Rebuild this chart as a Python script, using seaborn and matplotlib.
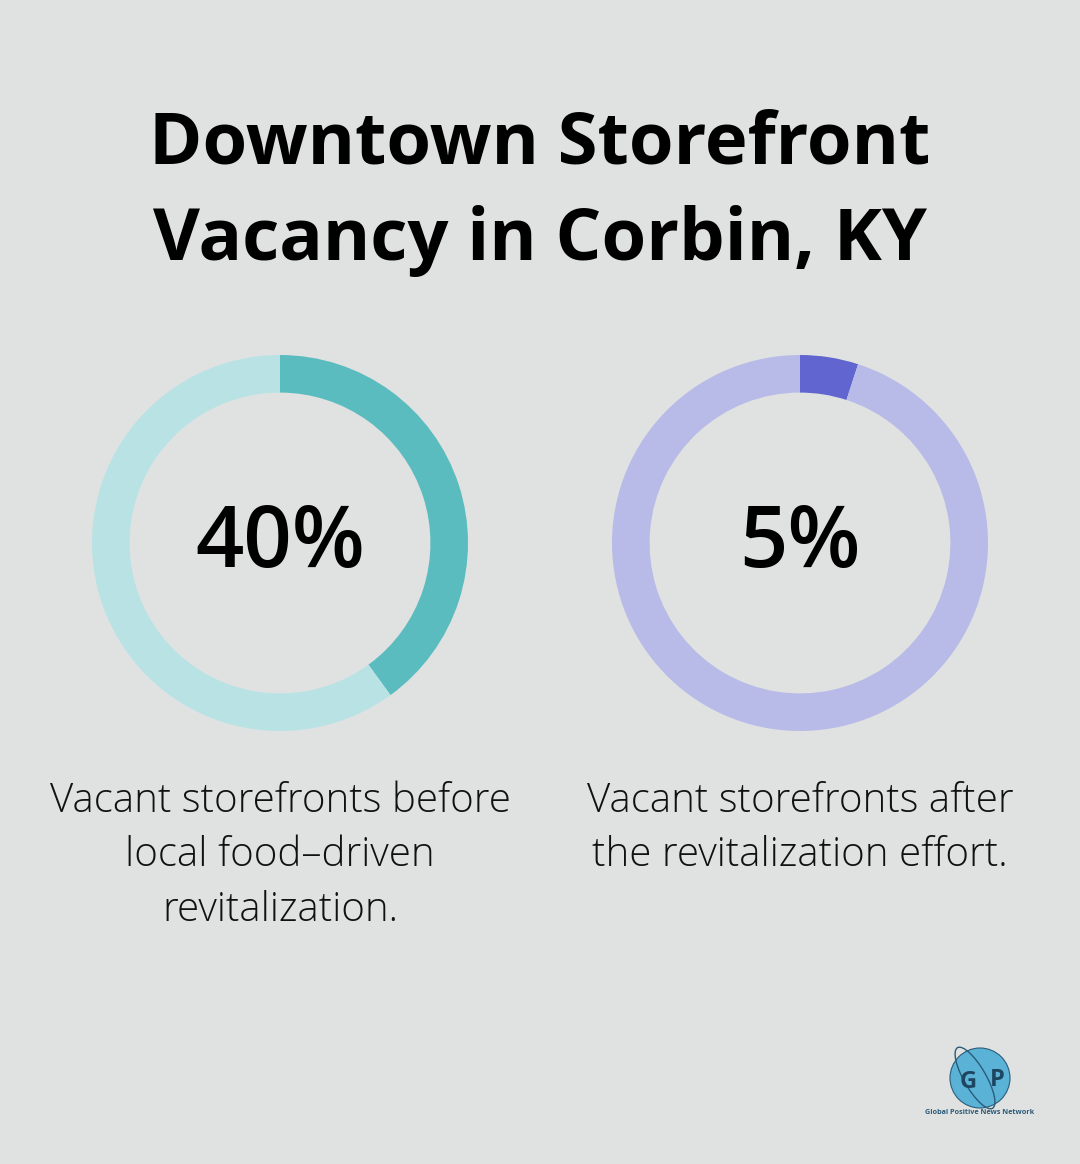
import matplotlib
matplotlib.use("Agg")
import matplotlib.pyplot as plt
import seaborn as sns
from matplotlib.patches import Circle, Ellipse

# ---- data ----
title_lines = ["Downtown Storefront", "Vacancy in Corbin, KY"]
labels = ["40%", "5%"]
values = [40, 5]
captions = ["Vacant storefronts before\nlocal food\u2013driven\nrevitalization.",
            "Vacant storefronts after\nthe revitalization effort."]
dark_colors = ["#5BBCBF", "#6065CF"]
light_colors = ["#B8E2E4", "#B8BBE8"]
bg = "#E0E2E1"

sns.set_theme(style="white")
plt.rcParams['font.family'] = ['Open Sans', 'DejaVu Sans']

W, H = 1080, 1164
fig = plt.figure(figsize=(W / 100, H / 100), dpi=100, facecolor=bg)

# title
fig.text(540 / W, 1 - 144 / H, title_lines[0], ha="center", va="center",
         fontsize=52, fontweight="bold", color="#000000")
fig.text(540 / W, 1 - 241 / H, title_lines[1], ha="center", va="center",
         fontsize=52, fontweight="bold", color="#000000")

centers_x = [280, 800]
cy = 543
R = 188
for i in range(2):
    cx = centers_x[i]
    ax = fig.add_axes([(cx - R) / W, 1 - (cy + R) / H, 2 * R / W, 2 * R / H])
    ax.set_facecolor(bg)
    ax.pie([values[i], 100 - values[i]], colors=[dark_colors[i], light_colors[i]],
           startangle=90, counterclock=False, radius=1,
           wedgeprops=dict(width=0.2, linewidth=0))
    ax.set_xlim(-1, 1)
    ax.set_ylim(-1, 1)
    ax.set_aspect("equal")
    ax.axis("off")
    ax.text(0, -0.01, labels[i], ha="center", va="center", fontsize=61,
            fontweight="semibold", color="#000000")
    fig.text(cx / W, 1 - 781 / H, captions[i], ha="center", va="top",
             fontsize=29, fontweight="light", color="#111111", linespacing=1.43)

# logo
lax = fig.add_axes([900 / W, 1 - 1130 / H, 160 / W, 100 / H])
lax.set_xlim(0, 160)
lax.set_ylim(100, 0)
lax.axis("off")
lax.add_patch(Circle((80, 48), 30, facecolor="#5AB3D6", edgecolor="#2B5C7A", lw=0.8))
lax.add_patch(Ellipse((75, 48), 22, 70, angle=-30, fill=False, edgecolor="#2B5C7A", lw=1))
lax.text(68, 52, "G", ha="center", va="center", fontsize=17, fontweight="bold", color="#1E4560")
lax.text(97, 50, "P", ha="center", va="center", fontsize=17, fontweight="bold", color="#1E4560")
lax.text(80, 83, "Global Positive News Network", ha="center", va="center",
         fontsize=5.2, fontweight="bold", color="#2B5C7A")

fig.savefig("out.png", dpi=100, facecolor=bg)
